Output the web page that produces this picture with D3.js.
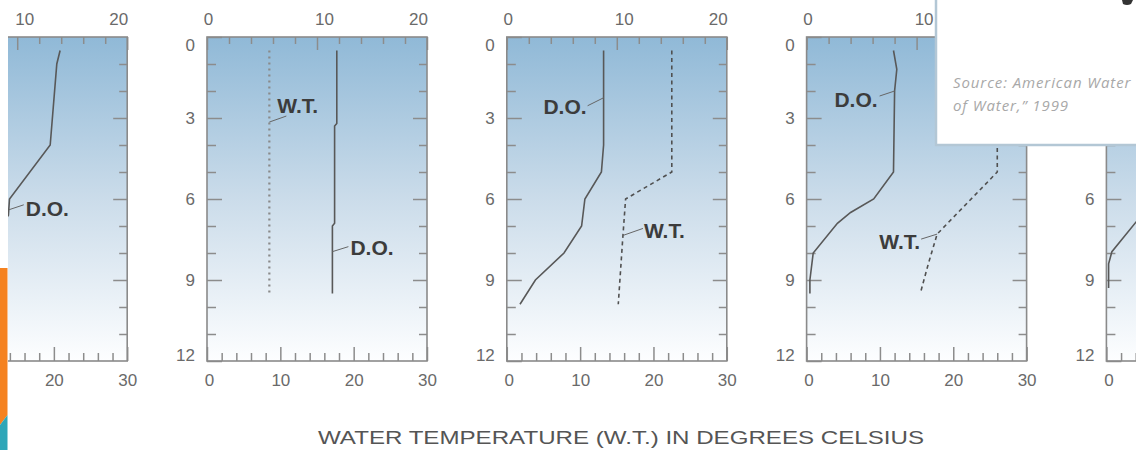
<!DOCTYPE html>
<html>
<head>
<meta charset="utf-8">
<script src="https://cdn.jsdelivr.net/npm/d3@7"></script>
<style>
  body { margin: 0; background: #fff; }
  svg { display: block; font-family: "Liberation Sans", Arial, sans-serif; }
  .tick line { stroke: #8c8c8c; stroke-width: 1.5; }
  .tick text { fill: #6a6a6a; }
</style>
</head>
<body>
<svg id="chart" width="1136" height="450"></svg>
<script>
// tick labels
const doTicks = [0, 10, 20];          // dissolved oxygen, mg/L (top axis)
const wtTicks = [0, 10, 20, 30];      // water temperature, deg C (bottom axis)
const depthTicks = [0, 3, 6, 9, 12];  // depth, metres

// dissolved oxygen profiles, [mg/L, depth m], one per panel
const doProfiles = [
  [[13.9, 0.5], [13.6, 1.0], [13.0, 4.0], [9.3, 6.0], [9.2, 6.6], [8.5, 7.0], [6.0, 8.0], [4.0, 9.0]],
  [[11.8, 0.5], [11.8, 3.2], [11.6, 3.3], [11.6, 6.9], [11.4, 7.0], [11.4, 9.5]],
  [[8.8, 0.5], [8.8, 4.0], [8.6, 5.0], [7.1, 6.0], [6.8, 7.0], [5.2, 8.0], [2.6, 9.0], [1.2, 9.9]],
  [[7.9, 0.5], [8.2, 1.2], [8.0, 2.0], [7.9, 5.0], [6.1, 6.0], [4.0, 6.5], [2.8, 6.9], [0.6, 8.0], [0.3, 9.0], [0.3, 9.5]],
  [[4.2, 6.2], [2.7, 6.85], [0.5, 7.95], [0.2, 8.4], [0.2, 9.3]]
];

// water temperature profiles, [deg C, depth m]
const wtProfiles = [
  null,
  [[8.5, 0.5], [8.5, 9.5]],
  [[22.5, 0.5], [22.5, 5.0], [16.2, 6.0], [15.8, 7.5], [15.2, 9.9]],
  [[26.0, 0.5], [26.0, 5.0], [17.8, 7.3], [16.6, 8.4], [15.5, 9.5]],
  null
];

// depth where each label's leader meets its line
const doLabelDepth = [6.4, 7.95, 2.25, 2.0, null];
const wtLabelDepth = [null, 3.15, 7.35, 7.3, null];

const title = "WATER TEMPERATURE (W.T.) IN DEGREES CELSIUS";

// layout
const pw = 220, ph = 324, topY = 37, firstX = 207, step = 299.8;
// leader end / text offsets from the anchor point on the line
const doLabelPos = [
  { lx: 15, ly: -5, tx: 17, ty: 6, anchor: "start" },
  { lx: 16, ly: -5, tx: 18, ty: 3, anchor: "start" },
  { lx: -16, ly: 8, tx: -17, ty: 16, anchor: "end" },
  { lx: -15, ly: 5, tx: -17, ty: 16, anchor: "end" },
  null
];
const wtLabelPos = [
  null,
  { lx: 17, ly: -6, tx: 8, ty: -9, anchor: "start" },
  { lx: 20, ly: -7, tx: 21, ty: 3, anchor: "start" },
  { lx: -16, ly: 5, tx: -17, ty: 15, anchor: "end" },
  null
];
const wtDash = [null, "2,4", "4,3.5", "4,3.5", null];

const svg = d3.select("#chart");

const grad = svg.append("defs").append("linearGradient")
  .attr("id", "water").attr("x1", 0).attr("y1", 0).attr("x2", 0).attr("y2", 1);
grad.append("stop").attr("offset", "0%").attr("stop-color", "#90b9d7");
grad.append("stop").attr("offset", "50%").attr("stop-color", "#cbdcea");
grad.append("stop").attr("offset", "100%").attr("stop-color", "#fdfeff");

const valueAt = (profile, depth) => {
  for (let k = 1; k < profile.length; k++) {
    const a = profile[k - 1], b = profile[k];
    if (depth >= a[1] && depth <= b[1]) {
      const t = (depth - a[1]) / (b[1] - a[1] || 1);
      return a[0] + t * (b[0] - a[0]);
    }
  }
  return profile[profile.length - 1][0];
};

const styleAxis = (sel) => {
  sel.select(".domain").remove();
  sel.attr("font-size", 17).attr("font-family", null);
};

doProfiles.forEach((doProf, i) => {
  const x0 = firstX + (i - 1) * step;
  const g = svg.append("g").attr("transform", "translate(" + x0 + "," + topY + ")");

  const xDo = d3.scaleLinear().domain([0, 20]).range([0, pw]);
  const xWt = d3.scaleLinear().domain([0, 30]).range([0, pw]);
  const y = d3.scaleLinear().domain([0, 12]).range([0, ph]);

  g.append("rect").attr("width", pw).attr("height", ph).attr("fill", "url(#water)");

  // top axis (D.O.)
  g.append("g")
    .call(d3.axisTop(xDo).tickValues(d3.range(2, 20, 2).filter(v => v !== 10)).tickSize(-7).tickFormat(""))
    .call(styleAxis);
  g.append("g")
    .call(d3.axisTop(xDo).tickValues(doTicks).tickSize(-13).tickPadding(12))
    .call(styleAxis)
    .selectAll("text")
    .attr("dx", d => d === 0 ? 1 : d === 10 ? 7 : -9);

  // bottom axis (W.T.)
  g.append("g").attr("transform", "translate(0," + ph + ")")
    .call(d3.axisBottom(xWt).tickValues(d3.range(2, 30, 2).filter(v => v % 10 !== 0)).tickSize(-8).tickFormat(""))
    .call(styleAxis);
  g.append("g").attr("transform", "translate(0," + ph + ")")
    .call(d3.axisBottom(xWt).tickValues(wtTicks).tickSize(-14).tickPadding(13))
    .call(styleAxis)
    .selectAll("text")
    .attr("dx", d => d === 0 ? 2 : 0);

  // left axis (depth)
  g.append("g")
    .call(d3.axisLeft(y).tickValues(d3.range(1, 12).filter(v => v % 3 !== 0)).tickSize(-9).tickFormat(""))
    .call(styleAxis);
  g.append("g")
    .call(d3.axisLeft(y).tickValues(depthTicks).tickSize(-15).tickPadding(12))
    .call(styleAxis)
    .selectAll("text")
    .attr("dy", d => d === 0 ? "0.78em" : d === 12 ? "-0.05em" : "0.32em");

  // right axis
  g.append("g").attr("transform", "translate(" + pw + ",0)")
    .call(d3.axisRight(y).tickValues(d3.range(1, 12).filter(v => v % 3 !== 0)).tickSize(-8).tickFormat(""))
    .call(styleAxis);
  g.append("g").attr("transform", "translate(" + pw + ",0)")
    .call(d3.axisRight(y).tickValues([3, 6, 9]).tickSize(-14).tickFormat(""))
    .call(styleAxis);

  g.append("rect").attr("width", pw).attr("height", ph)
    .attr("fill", "none").attr("stroke", "#8a8a8a").attr("stroke-width", 1.6);

  // profiles
  g.append("path").datum(doProf)
    .attr("d", d3.line().x(d => xDo(d[0])).y(d => y(d[1])))
    .attr("fill", "none").attr("stroke", "#585858").attr("stroke-width", 1.6);

  const wtProf = wtProfiles[i];
  if (wtProf) {
    g.append("path").datum(wtProf)
      .attr("d", d3.line().x(d => xWt(d[0])).y(d => y(d[1])))
      .attr("fill", "none")
      .attr("stroke", i === 1 ? "#8a8a8a" : "#505050")
      .attr("stroke-width", i === 1 ? 2.2 : 1.6)
      .attr("stroke-dasharray", wtDash[i]);
  }

  // labels with leaders
  const label = (text, px, py, pos) => {
    g.append("line")
      .attr("x1", px).attr("y1", py).attr("x2", px + pos.lx).attr("y2", py + pos.ly)
      .attr("stroke", "#666").attr("stroke-width", 1);
    g.append("text")
      .attr("x", px + pos.tx).attr("y", py + pos.ty)
      .attr("text-anchor", pos.anchor)
      .attr("font-size", 21).attr("font-weight", "bold").attr("fill", "#3c3c3c")
      .text(text);
  };
  if (doLabelDepth[i] !== null) {
    const dd = doLabelDepth[i];
    label("D.O.", xDo(valueAt(doProf, dd)), y(dd), doLabelPos[i]);
  }
  if (wtProf && wtLabelDepth[i] !== null) {
    const wd = wtLabelDepth[i];
    label("W.T.", xWt(valueAt(wtProf, wd)), y(wd), wtLabelPos[i]);
  }
});

// tick labels of the outer panels that fall off the page or under the callout
svg.selectAll(".tick text").each(function () {
  const b = this.getBoundingClientRect();
  const offPage = b.right < 8 || b.left > 1136;
  const underBox = b.left > 936 && b.bottom < 145;
  if (offPage || underBox) d3.select(this).remove();
});

// axis title
svg.append("text")
  .attr("x", 621).attr("y", 444)
  .attr("text-anchor", "middle")
  .attr("font-size", 19).attr("fill", "#555")
  .attr("textLength", 606).attr("lengthAdjust", "spacingAndGlyphs")
  .text(title);

// slide decorations: left margin strip and coloured bar
svg.append("rect").attr("x", 0).attr("y", 0).attr("width", 8).attr("height", 450).attr("fill", "#fff");
svg.append("polygon").attr("points", "0,268 7.5,268 7.5,415 0,425").attr("fill", "#f58220");
svg.append("polygon").attr("points", "0,425 7.5,415 7.5,450 0,450").attr("fill", "#2ea6b8");

// source callout box over the top right
const box = svg.append("g");
box.append("rect").attr("x", 936).attr("y", -4).attr("width", 210).attr("height", 149)
  .attr("fill", "#fff").attr("stroke", "#b3c7d5").attr("stroke-width", 2.5);
// tail of a cropped heading glyph at the top edge
box.append("path").attr("d", "M1122,0 L1133,0 L1131,4 Q1127,6 1123,4 Z").attr("fill", "#333");
box.append("text").attr("x", 953).attr("y", 88)
  .attr("font-size", 15).attr("font-style", "italic").attr("fill", "#a8a8a8")
  .attr("font-family", "'Open Sans', sans-serif").attr("letter-spacing", 0.9)
  .text("Source: American Water");
box.append("text").attr("x", 953).attr("y", 111)
  .attr("font-size", 15).attr("font-style", "italic").attr("fill", "#a8a8a8")
  .attr("font-family", "'Open Sans', sans-serif").attr("letter-spacing", 0.9)
  .text("of Water,\u201d 1999");
</script>
</body>
</html>
